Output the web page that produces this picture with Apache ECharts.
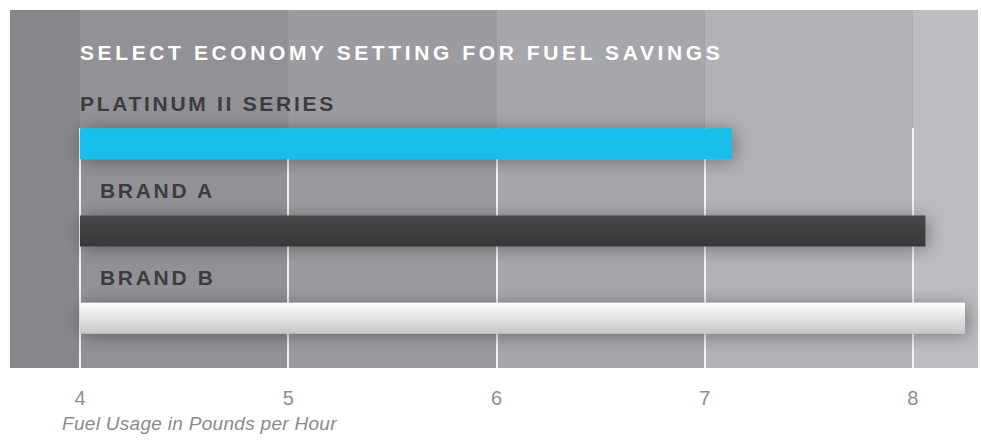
<!DOCTYPE html>
<html>
<head>
<meta charset="utf-8">
<script src="https://cdn.jsdelivr.net/npm/echarts@6/dist/echarts.min.js"></script>
<style>
  html, body { margin: 0; padding: 0; background: #fff; }
  #fuel-chart { width: 981px; height: 440px; }
</style>
</head>
<body>
<div id="fuel-chart"></div>
<script>
// data
const chartTitle = 'SELECT ECONOMY SETTING FOR FUEL SAVINGS';
const axisTitle = 'Fuel Usage in Pounds per Hour';
const models = ['PLATINUM II SERIES', 'BRAND A', 'BRAND B'];
const fuelUsage = [7.13, 8.06, 8.25];
const axisMin = 4;
const axisMax = 8.3125;
const axisStep = 1;

// look
const font = 'Liberation Sans, Arial, sans-serif';
const bandColors = ['#919196', '#9c9ca0', '#a6a7ab', '#b1b2b6', '#bcbdc1'];
const barFills = [
  '#16bee9',
  {type: 'linear', x: 0, y: 0, x2: 0, y2: 1, colorStops: [{offset: 0, color: '#47474a'}, {offset: 1, color: '#38383a'}]},
  {type: 'linear', x: 0, y: 0, x2: 0, y2: 1, colorStops: [{offset: 0, color: '#ffffff'}, {offset: 1, color: '#c6c6c8'}]}
];
const labelIndent = [0, 20, 20];
const letterSpacing = {};
letterSpacing[chartTitle] = 3.6;
letterSpacing[axisTitle] = 0.3;
models.forEach(m => letterSpacing[m] = 2.7);

const dom = document.getElementById('fuel-chart');
const chart = echarts.init(dom, null, {renderer: 'svg'});

const sharedX = {type: 'value', min: axisMin, max: axisMax, interval: axisStep};

const option = {
  animation: false,
  backgroundColor: '#fff',
  title: [{
    text: chartTitle, left: 80, top: 42, padding: 0,
    textStyle: {color: '#fff', fontSize: 21, fontWeight: 'bold', fontFamily: font}
  }, {
    text: axisTitle, left: 62, top: 414, padding: 0,
    textStyle: {color: '#8b8b8d', fontSize: 19, fontWeight: 'normal', fontStyle: 'italic', fontFamily: font}
  }],
  graphic: [{
    type: 'rect', left: 10, top: 10, z: -10,
    shape: {width: 968, height: 358},
    style: {fill: '#86868b'}
  }],
  grid: [
    {left: 80, right: 3, top: 10, bottom: 72, outerBoundsMode: 'none'},   // bands
    {left: 80, right: 3, top: 128, bottom: 72, outerBoundsMode: 'none'},  // lines + ticks
    {left: 80, right: 3, top: 100, bottom: 78, outerBoundsMode: 'none'}   // bars
  ],
  xAxis: [
    Object.assign({gridIndex: 0, axisLine: {show: false}, axisTick: {show: false}, axisLabel: {show: false},
      splitLine: {show: false}, splitArea: {show: true, areaStyle: {color: bandColors}}}, sharedX),
    Object.assign({gridIndex: 1, axisLine: {show: false}, axisTick: {show: false},
      axisLabel: {color: '#8e8e90', fontSize: 20, margin: 20, fontFamily: font,
        formatter: v => Number.isInteger(v) ? String(v) : ''},
      splitLine: {show: true, showMaxLine: false, lineStyle: {color: '#f4f4f4', width: 2}},
      splitArea: {show: false}}, sharedX),
    Object.assign({gridIndex: 2, show: false}, sharedX)
  ],
  yAxis: [
    {gridIndex: 0, type: 'value', show: false},
    {gridIndex: 1, type: 'value', show: false},
    {gridIndex: 2, type: 'category', data: models, inverse: true, show: false}
  ],
  series: [{
    type: 'bar',
    xAxisIndex: 2,
    yAxisIndex: 2,
    barWidth: 31,
    data: fuelUsage.map((v, i) => ({
      value: v,
      itemStyle: {color: barFills[i]},
      label: {position: [labelIndent[i], -25]}
    })),
    itemStyle: {
      shadowColor: 'rgba(0,0,0,0.35)',
      shadowBlur: 18,
      shadowOffsetX: 3,
      shadowOffsetY: 2
    },
    label: {
      show: true,
      formatter: '{b}',
      align: 'left',
      verticalAlign: 'middle',
      color: '#3c3c3e',
      fontSize: 21,
      fontWeight: 'bold',
      fontFamily: font
    }
  }]
};

chart.setOption(option);

// svg text can take letter spacing, echarts text styles cannot
function spaceLetters() {
  dom.querySelectorAll('text').forEach(t => {
    const s = letterSpacing[t.textContent];
    if (s) t.setAttribute('letter-spacing', s);
  });
}
spaceLetters();
chart.on('finished', spaceLetters);
</script>
</body>
</html>
